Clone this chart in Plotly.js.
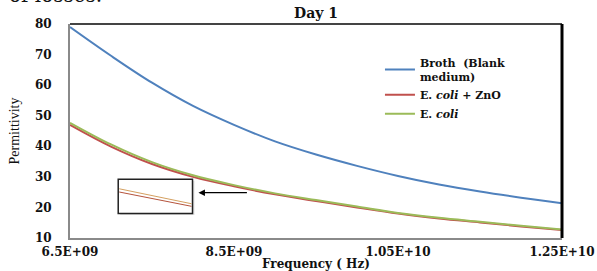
<!DOCTYPE html>
<html>
<head>
<meta charset="utf-8">
<script src="https://cdn.plot.ly/plotly-3.0.1.min.js"></script>
<style>html,body{margin:0;padding:0;background:#fff;}#chart{width:597px;height:271px;}</style>
</head>
<body>
<div id="chart"></div>
<script>
const frequency = [6.5e9, 7.0e9, 7.5e9, 8.0e9, 8.5e9, 9.0e9, 9.5e9, 10.0e9, 10.5e9, 11.0e9, 11.5e9, 12.0e9, 12.5e9];
const broth    = [79.0, 69.6, 60.8, 53.2, 47.0, 41.6, 37.3, 33.6, 30.3, 27.5, 25.2, 23.2, 21.4];
const ecoliZnO = [47.0, 39.9, 34.2, 30.0, 26.9, 24.3, 22.1, 20.0, 18.0, 16.4, 15.1, 13.8, 12.6];
const ecoli    = [47.7, 40.6, 34.8, 30.5, 27.3, 24.6, 22.4, 20.3, 18.2, 16.6, 15.3, 14.0, 12.8];
const xTickVals = [6.5e9, 8.5e9, 10.5e9, 12.5e9];
const xTickText = ['6.5E+09', '8.5E+09', '1.05E+10', '1.25E+10'];
const yTickVals = [10, 20, 30, 40, 50, 60, 70, 80];
const seriesNames = ['Broth  (Blank<br>medium)', 'E. <i>coli</i> + ZnO', 'E. <i>coli</i>'];

const boldSerif = {family: 'DejaVu Serif', size: 12, color: '#111', weight: 'bold'};

const traces = [
  {x: frequency, y: broth, name: seriesNames[0], mode: 'lines', line: {color: '#4F81BD', width: 2, shape: 'spline', smoothing: 1}},
  {x: frequency, y: ecoliZnO, name: seriesNames[1], mode: 'lines', line: {color: '#C0504D', width: 2, shape: 'spline', smoothing: 1}},
  {x: frequency, y: ecoli, name: seriesNames[2], mode: 'lines', line: {color: '#9BBB59', width: 2, shape: 'spline', smoothing: 1}}
];

const layout = {
  width: 597, height: 271,
  margin: {l: 70, r: 35, t: 24, b: 33},
  paper_bgcolor: '#fff', plot_bgcolor: '#fff',
  showlegend: true,
  title: {text: 'Day 1', font: {family: 'DejaVu Serif', size: 14, color: '#111', weight: 'bold'}, x: 0.5, xref: 'paper', y: 0.95, yanchor: 'middle'},
  xaxis: {
    range: [6.5e9, 12.5e9], tickvals: xTickVals, ticktext: xTickText,
    showgrid: false, zeroline: false, showline: true, linecolor: '#8a8a8a', linewidth: 2,
    ticks: '', tickfont: boldSerif, ticklabelstandoff: 2,
    title: {text: 'Frequency ( Hz)', font: {family: 'DejaVu Serif', size: 12, color: '#111', weight: 'bold'}, standoff: 0}
  },
  yaxis: {
    range: [10, 80], tickvals: yTickVals,
    showgrid: false, zeroline: false, showline: true, linecolor: '#8a8a8a', linewidth: 2,
    ticks: '', tickfont: boldSerif, ticklabelstandoff: 14,
    title: {text: 'Permittivity', font: {family: 'Liberation Serif', size: 14, color: '#111'}, standoff: 12}
  },
  legend: {
    x: 0.63, xanchor: 'left', y: 0.885, yanchor: 'top',
    bgcolor: 'rgba(0,0,0,0)', borderwidth: 0,
    font: {family: 'DejaVu Serif', size: 11, color: '#111', weight: 'bold'},
    tracegroupgap: 0, itemwidth: 30
  },
  shapes: [
    {type: 'line', xref: 'paper', yref: 'paper', x0: 0, x1: 1, y0: 1, y1: 1, line: {color: '#444', width: 2}},
    {type: 'line', xref: 'paper', yref: 'paper', x0: 1, x1: 1, y0: 0, y1: 1, line: {color: '#000', width: 3}},
    {type: 'rect', xref: 'paper', yref: 'paper', x0: 0.102, x1: 0.253, y0: 0.108, y1: 0.268, line: {width: 0}, fillcolor: 'rgba(0,0,0,0.12)'},
    {type: 'rect', xref: 'paper', yref: 'paper', x0: 0.098, x1: 0.249, y0: 0.115, y1: 0.274, line: {color: '#222', width: 1.5}, fillcolor: '#fff'},
    {type: 'line', xref: 'paper', yref: 'paper', x0: 0.100, x1: 0.247, y0: 0.230, y1: 0.160, line: {color: '#d4a060', width: 1}},
    {type: 'line', xref: 'paper', yref: 'paper', x0: 0.100, x1: 0.247, y0: 0.215, y1: 0.148, line: {color: '#b5533c', width: 1}}
  ],
  annotations: [
    {xref: 'paper', yref: 'paper', x: 0.261, y: 0.212, ax: 50, ay: 0, text: '', showarrow: true, arrowhead: 2, arrowsize: 1, arrowwidth: 1.3, arrowcolor: '#000'},
    {xref: 'paper', yref: 'paper', x: -0.128, y: 1.07, xanchor: 'left', yanchor: 'bottom', text: 'of losses.', showarrow: false, font: {family: 'DejaVu Serif', size: 20, color: '#111'}}
  ]
};

Plotly.newPlot('chart', traces, layout, {displayModeBar: false, staticPlot: true});
</script>
</body>
</html>
